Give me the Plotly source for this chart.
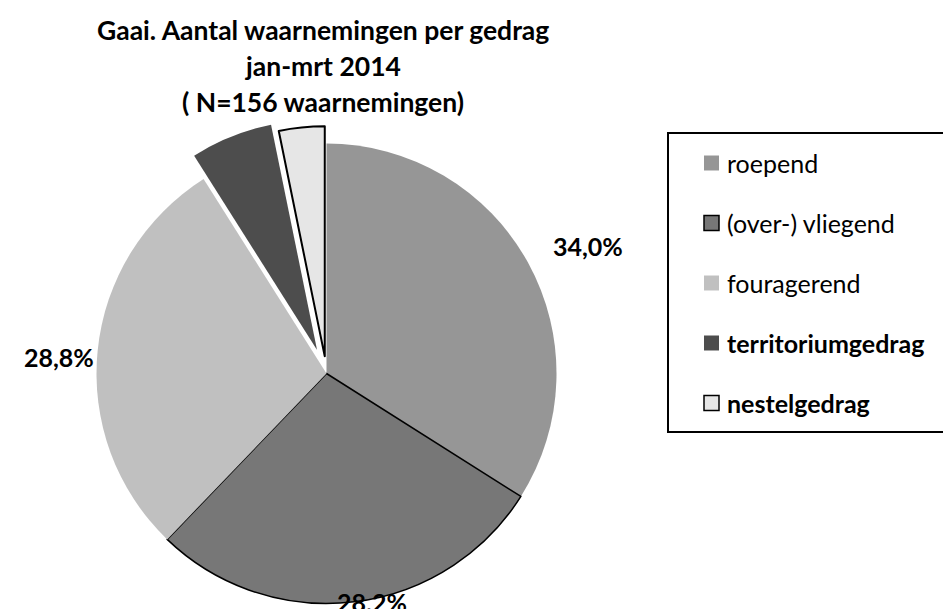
import math
import plotly.graph_objects as go

# ---------------- data ----------------
categories = ["roepend", "(over-) vliegend", "fouragerend", "territoriumgedrag", "nestelgedrag"]
counts = [53, 44, 45, 9, 5]
pct_labels = ["34,0%", "28.2%", "28,8%", "", ""]
title_lines = ["Gaai. Aantal waarnemingen per gedrag", "jan-mrt 2014", "( N=156 waarnemingen)"]

# ---------------- style ----------------
colors = ["#969696", "#777777", "#c0c0c0", "#4d4d4d", "#e6e6e6"]
outline = [0, 1.5, 0, 0, 2]
legend_outline = [0, 1.5, 0, 0, 1.5]
bold_legend = [False, False, False, True, True]
pulls = [0, 0, 0, 0.11, 0.075]
label_radius = [1.22, 1.0, 1.23, 0, 0]
label_shift = [(16, 8), (18, 0), (14, 12), (0, 0), (0, 0)]
FONT = "Lato"

W, H = 943, 609
CX, CY, R = 326.5, 373.5, 230.0  # pie centre / radius in px

total = sum(counts)
mids = []
cum = 0
for c in counts:
    mids.append((cum + c / 2) / total * 2 * math.pi)
    cum += c


def px_x(x):
    return x / W


def px_y(y):
    return 1 - y / H


def domain(cx, cy, r):
    return dict(x=[px_x(cx - r), px_x(cx + r)], y=[px_y(cy + r), px_y(cy - r)])


TRANSPARENT = "rgba(0,0,0,0)"
fig = go.Figure()

# main (not pulled) slices
fig.add_trace(go.Pie(
    labels=categories, values=counts, sort=False, direction="clockwise", rotation=0,
    marker=dict(colors=[TRANSPARENT if p else c for c, p in zip(colors, pulls)],
                line=dict(color="black", width=[0 if p else w for w, p in zip(outline, pulls)])),
    textinfo="none", showlegend=False, domain=domain(CX, CY, R), hoverinfo="label+value+percent",
))

# pulled slices: each drawn as its own pie, displaced along its bisector
for i, p in enumerate(pulls):
    if not p:
        continue
    dx = p * R * math.sin(mids[i])
    dy = -p * R * math.cos(mids[i])
    fig.add_trace(go.Pie(
        labels=categories, values=counts, sort=False, direction="clockwise", rotation=0,
        marker=dict(colors=[c if j == i else TRANSPARENT for j, c in enumerate(colors)],
                    line=dict(color="black", width=[w if j == i else 0 for j, w in enumerate(outline)])),
        textinfo="none", showlegend=False, domain=domain(CX + dx, CY + dy, R),
        hoverinfo="label+value+percent",
    ))

annotations = []
# percentage labels
for i, t in enumerate(pct_labels):
    if not t:
        continue
    k = label_radius[i]
    lx = CX + k * R * math.sin(mids[i]) + label_shift[i][0]
    ly = CY - k * R * math.cos(mids[i]) + label_shift[i][1]
    annotations.append(dict(
        x=px_x(lx), y=px_y(ly), xref="paper", yref="paper", text="<b>" + t + "</b>",
        showarrow=False, xanchor="center", yanchor="middle",
        font=dict(family=FONT, size=25, color="black"),
    ))

# title (one annotation per line)
for j, line in enumerate(title_lines):
    annotations.append(dict(
        x=px_x(323), y=px_y(30 + 36 * j), xref="paper", yref="paper",
        text="<b>" + line + "</b>",
        showarrow=False, xanchor="center", yanchor="middle", align="center",
        font=dict(family=FONT, size=26.5, color="black"),
    ))

# legend (box, swatches, texts)
shapes = [dict(type="rect", xref="paper", yref="paper",
               x0=px_x(668), x1=px_x(W + 20), y0=px_y(432), y1=px_y(133),
               line=dict(color="black", width=2), fillcolor="white", layer="below")]
for i, name in enumerate(categories):
    yc = 163 + i * 60
    shapes.append(dict(type="rect", xref="paper", yref="paper",
                       x0=px_x(704), x1=px_x(719), y0=px_y(yc + 7.5), y1=px_y(yc - 7.5),
                       fillcolor=colors[i],
                       line=dict(color="black" if legend_outline[i] else colors[i],
                                 width=legend_outline[i] if legend_outline[i] else 0)))
    annotations.append(dict(
        x=px_x(725), y=px_y(yc), xref="paper", yref="paper",
        text=("<b>" + name + "</b>") if bold_legend[i] else name,
        showarrow=False, xanchor="left", yanchor="middle",
        font=dict(family=FONT, size=25, color="black"),
    ))

fig.update_layout(
    width=W, height=H, margin=dict(l=0, r=0, t=0, b=0),
    paper_bgcolor="white", plot_bgcolor="white",
    annotations=annotations, shapes=shapes, showlegend=False,
)

fig.write_html("out.html", config={"displayModeBar": False},
               post_script="document.body.style.margin='0';")
